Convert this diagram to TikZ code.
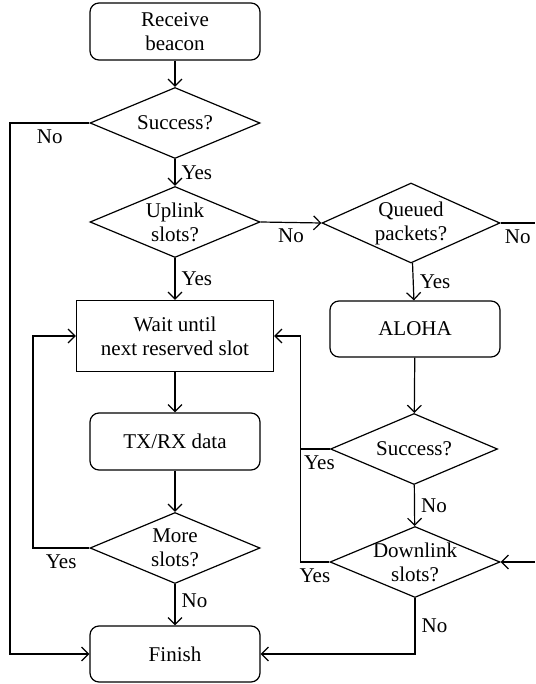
\documentclass[tikz,border=0pt]{standalone}
\usepackage{fontspec}
\setmainfont{Liberation Serif}
\usetikzlibrary{arrows.meta, shapes.geometric}

\begin{document}
\begin{tikzpicture}[x=1pt, y=-1pt, line width=1.2pt,
    font=\fontsize{21}{24}\selectfont,
    arr/.style={-{Straight Barb[length=7pt, width=14pt]}},
    tag/.style={inner sep=6pt},
    roundbox/.style={draw, rounded corners=9pt, minimum width=170pt, minimum height=57pt, align=center, inner sep=0pt},
    plainbox/.style={draw, minimum width=197pt, minimum height=71pt, align=center, inner sep=0pt},
    decide/.style={draw, diamond, aspect=2.4, minimum width=170pt, minimum height=71pt, align=center, inner sep=-12pt}]
  \useasboundingbox (0,0) rectangle (535,684);

  % left column
  \node[roundbox] (beacon) at (175,31.5) {Receive\\beacon};
  \node[decide] (succA) at (175,123) {Success?};
  \node[decide] (uplink) at (175,222) {Uplink\\slots?};
  \node[plainbox] (wait) at (175,336) {Wait until\\next reserved slot};
  \node[roundbox] (txrx) at (175,441.5) {TX/RX data};
  \node[decide] (more) at (175,548) {More\\slots?};
  \node[roundbox, minimum height=56pt] (finish) at (175,654) {Finish};

  % right column
  \node[decide, minimum width=178pt, minimum height=80pt] (queued) at (411,223) {Queued\\packets?};
  \node[roundbox, minimum height=56pt] (aloha) at (415,329) {ALOHA};
  \node[decide, minimum width=167pt] (succB) at (414,449) {Success?};
  \node[decide] (downlink) at (415,562) {Downlink\\slots?};

  \coordinate (qout) at (535,223);
  \coordinate (dlin) at (535,562);

  % connectors
  \draw[arr] (beacon) -- (succA);
  \draw[arr] (succA.west) -- node[tag, below] {No} (10,123) |- (finish.west);
  \draw[arr] (succA) -- node[tag, right] {Yes} (uplink);
  \draw[arr] (uplink) -- node[tag, right] {Yes} (wait);
  \draw[arr] (uplink.east) -- node[tag, below] {No} (queued.west);
  \draw (queued.east) -- node[tag, below] {No} (qout);
  \draw[arr] (queued) -- node[tag, right] {Yes} (aloha);
  \draw[arr] (aloha) -- (succB);
  \draw (succB.west) -- node[tag, below, xshift=4pt] {Yes} ++(-29,0);
  \draw[arr] (succB) -- node[tag, right] {No} (downlink);
  \draw[arr] (downlink.west) -- node[tag, below] {Yes} ++(-29,0) |- (wait.east);
  \draw[arr] (dlin) -- (downlink.east);
  \draw[arr] (downlink.south) |- node[tag, pos=0.25, right] {No} (finish.east);
  \draw[arr] (wait) -- (txrx);
  \draw[arr] (txrx) -- (more);
  \draw[arr] (more.west) -- node[tag, below] {Yes} (33,548) |- (wait.west);
  \draw[arr] (more) -- node[tag, pos=0.4, right] {No} (finish);
\end{tikzpicture}
\end{document}
